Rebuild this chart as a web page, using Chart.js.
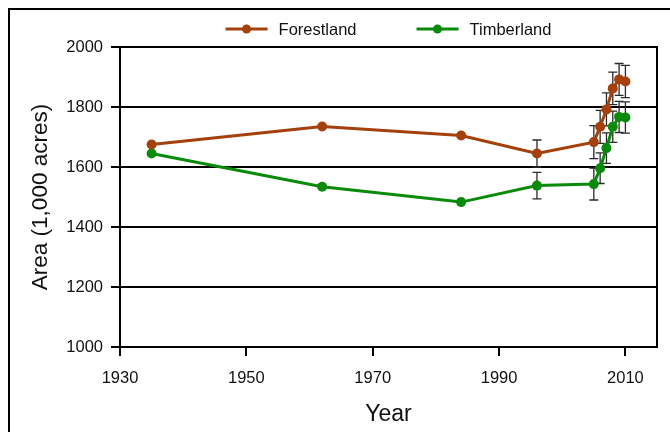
<!DOCTYPE html>
<html>
<head>
<meta charset="utf-8">
<script src="https://cdn.jsdelivr.net/npm/chart.js@4"></script>
<style>
  html, body { margin: 0; padding: 0; background: #fff; }
  canvas { display: block; }
</style>
</head>
<body>
<canvas id="chart" width="670" height="432"></canvas>
<script>
const years = [1935, 1962, 1984, 1996, 2005, 2006, 2007, 2008, 2009, 2010];
const forestland = [1675, 1735, 1705, 1645, 1683, 1734, 1792, 1862, 1892, 1885];
const timberland = [1645, 1534, 1483, 1538, 1543, 1596, 1663, 1734, 1767, 1765];
// +/- error for each point, null where the reference shows no bar
const forestErr = [null, null, null, 45, 55, 55, 55, 54, 53, 54];
const timberErr = [null, null, null, 44, 53, 51, 51, 52, 52, 52];
const xTicks = [1930, 1950, 1970, 1990, 2010];
const yTicks = [1000, 1200, 1400, 1600, 1800, 2000];

const FONT = "'Liberation Sans', Arial, sans-serif";
const colForest = "#a3400c";
const colTimber = "#0a8a0a";

function toPoints(vals) {
    return years.map((y, i) => ({ x: y, y: vals[i] }));
}

// outer frame, plot box, error bars and legend
const extras = {
    id: 'extras',
    beforeDraw(chart) {
        const ctx = chart.ctx;
        ctx.save();
        ctx.fillStyle = '#fff';
        ctx.fillRect(0, 0, chart.width, chart.height);
        ctx.strokeStyle = '#000';
        ctx.lineWidth = 2;
        ctx.beginPath();
        ctx.moveTo(9, chart.height + 5);
        ctx.lineTo(9, 9);
        ctx.lineTo(chart.width + 5, 9);
        ctx.stroke();
        ctx.restore();
    },
    beforeDatasetsDraw(chart) {
        const ctx = chart.ctx;
        const xs = chart.scales.x, ys = chart.scales.y;
        const errs = [forestErr, timberErr];
        ctx.save();
        ctx.strokeStyle = '#2a2a2a';
        ctx.lineWidth = 1.3;
        chart.data.datasets.forEach((ds, d) => {
            ds.data.forEach((p, i) => {
                const e = errs[d][i];
                if (e == null) return;
                const px = xs.getPixelForValue(p.x);
                const top = ys.getPixelForValue(p.y + e);
                const bot = ys.getPixelForValue(p.y - e);
                ctx.beginPath();
                ctx.moveTo(px, top); ctx.lineTo(px, bot);
                ctx.moveTo(px - 4.5, top); ctx.lineTo(px + 4.5, top);
                ctx.moveTo(px - 4.5, bot); ctx.lineTo(px + 4.5, bot);
                ctx.stroke();
            });
        });
        ctx.restore();
    },
    afterDraw(chart) {
        const ctx = chart.ctx;
        const a = chart.chartArea;
        ctx.save();
        // plot frame
        ctx.strokeStyle = '#000';
        ctx.lineWidth = 2;
        ctx.strokeRect(a.left, a.top, a.right - a.left, a.bottom - a.top);

        // legend
        ctx.font = '16.5px ' + FONT;
        ctx.textBaseline = 'middle';
        const lineLen = 42, gap = 11, between = 60, ly = 29;
        const items = chart.data.datasets.map(ds => ({
            label: ds.label, color: ds.borderColor, w: ctx.measureText(ds.label).width
        }));
        let total = 0;
        items.forEach((it, i) => { total += lineLen + gap + it.w + (i ? between : 0); });
        let x = (a.left + a.right) / 2 - total / 2;
        items.forEach(it => {
            ctx.strokeStyle = it.color;
            ctx.lineWidth = 3;
            ctx.beginPath();
            ctx.moveTo(x, ly); ctx.lineTo(x + lineLen, ly);
            ctx.stroke();
            ctx.fillStyle = it.color;
            ctx.beginPath();
            ctx.arc(x + lineLen / 2, ly, 4.5, 0, Math.PI * 2);
            ctx.fill();
            ctx.fillStyle = '#111';
            ctx.fillText(it.label, x + lineLen + gap, ly + 1);
            x += lineLen + gap + it.w + between;
        });
        ctx.restore();
    }
};

new Chart(document.getElementById('chart'), {
    type: 'line',
    data: {
        datasets: [
            {
                label: 'Forestland',
                data: toPoints(forestland),
                borderColor: colForest,
                backgroundColor: colForest,
                borderWidth: 3,
                pointRadius: 5,
                pointHoverRadius: 5,
                pointBorderWidth: 0
            },
            {
                label: 'Timberland',
                data: toPoints(timberland),
                borderColor: colTimber,
                backgroundColor: colTimber,
                borderWidth: 3,
                pointRadius: 5,
                pointHoverRadius: 5,
                pointBorderWidth: 0
            }
        ]
    },
    options: {
        responsive: false,
        animation: false,
        layout: { padding: { left: 0, top: 47, right: 13, bottom: 0 } },
        plugins: {
            legend: { display: false },
            tooltip: { enabled: false }
        },
        scales: {
            x: {
                type: 'linear',
                min: 1930,
                max: 2015,
                afterBuildTicks: axis => { axis.ticks = xTicks.map(v => ({ value: v })); },
                afterFit: axis => { axis.height = 85; },
                border: { display: true, color: '#000', width: 2 },
                grid: { drawOnChartArea: false, drawTicks: true, tickLength: 9, color: '#000', lineWidth: 2 },
                ticks: { color: '#111', font: { family: FONT, size: 16.5 }, padding: 13, maxRotation: 0, callback: v => String(v) },
                title: { display: true, text: 'Year', color: '#111', font: { family: FONT, size: 23 }, padding: { top: 0, bottom: 4 } }
            },
            y: {
                min: 1000,
                max: 2000,
                afterBuildTicks: axis => { axis.ticks = yTicks.map(v => ({ value: v })); },
                afterFit: axis => { axis.width = 120; },
                border: { display: true, color: '#000', width: 2 },
                grid: { drawOnChartArea: true, drawTicks: true, tickLength: 9, color: '#000', lineWidth: 2 },
                ticks: { color: '#111', font: { family: FONT, size: 16.5 }, padding: 8, callback: v => String(v) },
                title: { display: true, text: 'Area (1,000 acres)', color: '#111', font: { family: FONT, size: 22.5 }, padding: { top: 27, bottom: 0 } }
            }
        }
    },
    plugins: [extras]
});
</script>
</body>
</html>
